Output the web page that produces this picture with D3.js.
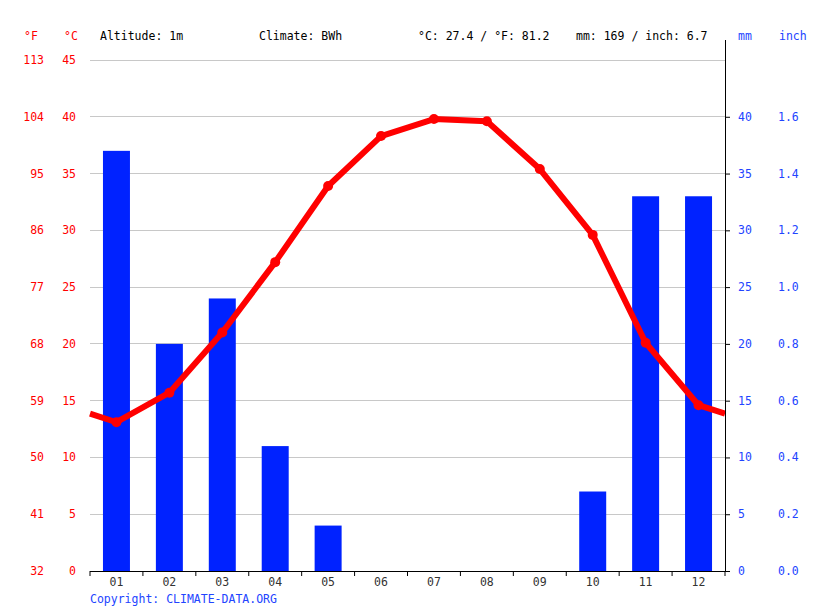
<!DOCTYPE html>
<html><head><meta charset="utf-8">
<script src="https://cdn.jsdelivr.net/npm/d3@7"></script>
<style>body{margin:0;background:#fff}svg{display:block}text{font-family:"DejaVu Sans Mono",monospace;font-size:11.5px}</style>
</head><body><svg id="c" width="815" height="611"></svg>
<script>
const months = ["01","02","03","04","05","06","07","08","09","10","11","12"];
const tempC = [13.1,15.7,21.0,27.2,33.9,38.3,39.8,39.6,35.4,29.6,20.1,14.6];
const precipMm = [37,20,24,11,4,0,0,0,0,7,33,33];
const cTicks = [0,5,10,15,20,25,30,35,40,45];
const fTicks = [32,41,50,59,68,77,86,95,104,113];
const mmTicks = [0,5,10,15,20,25,30,35,40];
const inchTicks = ["0.0","0.2","0.4","0.6","0.8","1.0","1.2","1.4","1.6"];

const svg = d3.select("#c");
const L=90,R=725,T=60,B=571;
const red="#ff0000", blue="#0022ff", tblue="#2244ff";
const x = d3.scaleBand().domain(months).range([L,R]).paddingInner(0.49).paddingOuter(0.245);
const xs = d3.scaleBand().domain(months).range([L,R]);
const yC = d3.scaleLinear().domain([0,45]).range([B,T]);
const yMm = d3.scaleLinear().domain([0,45]).range([B,T]);

// grid
svg.append("g").selectAll("line").data(cTicks.slice(1)).join("line")
  .attr("x1",L).attr("x2",R).attr("y1",d=>yC(d)).attr("y2",d=>yC(d))
  .attr("stroke","#c8c8c8").attr("stroke-width",1).attr("shape-rendering","crispEdges");

// bars
svg.append("g").selectAll("rect").data(months.map((m,i)=>({m,v:precipMm[i]}))).join("rect")
  .attr("x",d=>x(d.m)).attr("width",x.bandwidth())
  .attr("y",d=>yMm(d.v)).attr("height",d=>B-yMm(d.v)).attr("fill",blue);

// temperature line
const pts = months.map((m,i)=>[xs(m)+xs.bandwidth()/2, yC(tempC[i])]);
const edge = (tempC[0]+tempC[11])/2;
const linePts = [[L,yC(edge)],...pts,[R,yC(edge)]];
svg.append("path").attr("d",d3.line()(linePts)).attr("fill","none")
  .attr("stroke",red).attr("stroke-width",6).attr("stroke-linejoin","round");
svg.append("g").selectAll("circle").data(pts).join("circle")
  .attr("cx",d=>d[0]).attr("cy",d=>d[1]).attr("r",5).attr("fill",red);

// x axis
const xa = svg.append("g").attr("transform",`translate(0,${B})`);
xa.append("line").attr("x1",L).attr("x2",R+5).attr("y1",0.5).attr("y2",0.5).attr("stroke","#000");
xa.selectAll(".tk").data(d3.range(13)).join("line")
  .attr("x1",i=>L+i*xs.step()).attr("x2",i=>L+i*xs.step()).attr("y1",0).attr("y2",5).attr("stroke","#000");
xa.selectAll("text").data(months).join("text")
  .attr("x",d=>xs(d)+xs.bandwidth()/2).attr("y",15).attr("text-anchor","middle").attr("fill","#333").text(d=>d);

// right axis
svg.append("line").attr("x1",R+0.5).attr("x2",R+0.5).attr("y1",40).attr("y2",B).attr("stroke","#000");
svg.append("g").selectAll("line").data(mmTicks).join("line")
  .attr("x1",R).attr("x2",R+5).attr("y1",d=>yMm(d)+0.5).attr("y2",d=>yMm(d)+0.5).attr("stroke","#000");
svg.append("g").selectAll("text").data(mmTicks).join("text")
  .attr("x",738).attr("y",d=>yMm(d)+4).attr("fill",tblue).text(d=>d);
svg.append("g").selectAll("text").data(inchTicks).join("text")
  .attr("x",778).attr("y",(d,i)=>yMm(mmTicks[i])+4).attr("fill",tblue).text(d=>d);

// left axes
svg.append("g").selectAll("text").data(cTicks).join("text")
  .attr("x",76).attr("y",d=>yC(d)+4).attr("text-anchor","end").attr("fill",red).text(d=>d);
svg.append("g").selectAll("text").data(fTicks).join("text")
  .attr("x",44).attr("y",(d,i)=>yC(cTicks[i])+4).attr("text-anchor","end").attr("fill",red).text(d=>d);

// header
const hy=40;
svg.append("text").attr("x",24).attr("y",hy).attr("fill",red).text("°F");
svg.append("text").attr("x",64).attr("y",hy).attr("fill",red).text("°C");
svg.append("text").attr("x",100).attr("y",hy).attr("fill","#000").text("Altitude: 1m");
svg.append("text").attr("x",259).attr("y",hy).attr("fill","#000").text("Climate: BWh");
svg.append("text").attr("x",418).attr("y",hy).attr("fill","#000").text("°C: 27.4 / °F: 81.2");
svg.append("text").attr("x",576).attr("y",hy).attr("fill","#000").text("mm: 169 / inch: 6.7");
svg.append("text").attr("x",738).attr("y",hy).attr("fill",tblue).text("mm");
svg.append("text").attr("x",779).attr("y",hy).attr("fill",tblue).text("inch");
svg.append("text").attr("x",90).attr("y",603).attr("fill",tblue).text("Copyright: CLIMATE-DATA.ORG");
</script></body></html>
